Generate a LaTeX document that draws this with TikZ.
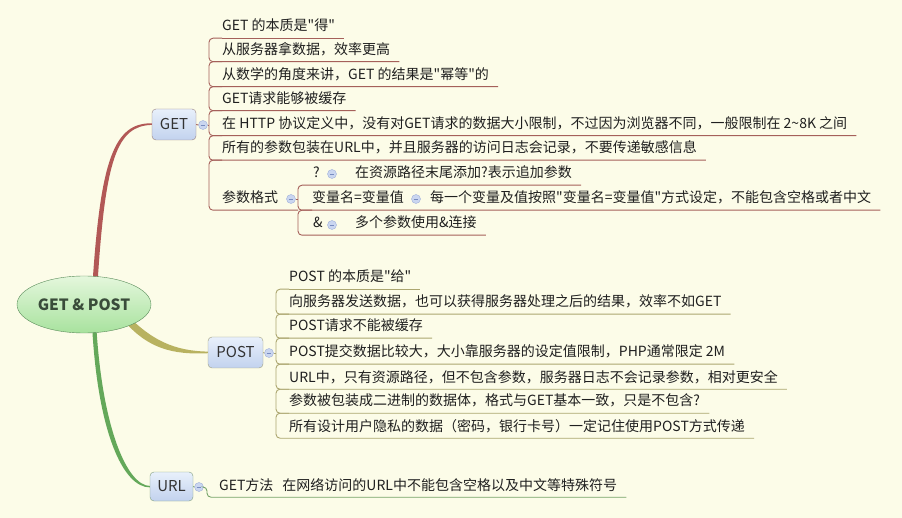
\documentclass[tikz,border=0pt]{standalone}
\usepackage{fontspec}
\setmainfont{Noto Sans CJK SC}[Ligatures=TeXOff]
\usetikzlibrary{shapes.geometric}
\definecolor{paper}{RGB}{252,252,232}
\definecolor{getred}{RGB}{178,88,86}
\definecolor{getrule}{RGB}{165,96,90}
\definecolor{postolive}{RGB}{184,178,96}
\definecolor{postrule}{RGB}{172,166,112}
\definecolor{urlgreen}{RGB}{100,168,90}
\definecolor{urlrule}{RGB}{118,164,104}
\definecolor{foldblue}{RGB}{202,214,240}
\definecolor{foldrim}{RGB}{160,176,218}
\definecolor{foldmark}{RGB}{120,140,192}
\definecolor{boxtop}{RGB}{232,240,251}
\definecolor{boxbottom}{RGB}{194,210,238}
\definecolor{roottop}{RGB}{228,247,220}
\definecolor{rootbottom}{RGB}{168,226,158}
\definecolor{roottext}{RGB}{58,76,58}

\begin{document}
\begin{tikzpicture}[x=1pt,y=-1pt,font=\fontsize{14}{16}\selectfont]
        \tikzstyle{item}=[anchor=base west,inner xsep=0,inner ysep=5pt,text height=11pt,text depth=2pt,text=black!88]
        \tikzstyle{branch}=[draw,rounded corners=4pt,top color=boxtop,bottom color=boxbottom,minimum height=31pt,inner sep=0,font=\fontsize{15}{17}\selectfont,text=black!80]
        \tikzstyle{fold}=[circle,draw=foldrim,fill=foldblue,minimum size=9pt,inner sep=0,
            path picture={\draw[foldmark,line width=.7pt] ([xshift=-2.3pt]path picture bounding box.center) -- ([xshift=2.3pt]path picture bounding box.center);}]
        \tikzstyle{getline}=[draw=getrule,line width=.9pt,rounded corners=4pt]
        \tikzstyle{postline}=[draw=postrule,line width=.9pt,rounded corners=4pt]
        \tikzstyle{urlline}=[draw=urlrule,line width=.9pt,rounded corners=4pt]

        \fill[paper] (0,0) rectangle (902,518);
        \useasboundingbox (0,0) rectangle (902,518);

        % tapered branches from the root
        \fill[getred] (92.6,282) .. controls (100.8,160) and (114,122.6) .. (152,123.3)
            -- (152,124.9) .. controls (116.5,125.6) and (105.4,160) .. (97.6,282) -- cycle;
        \fill[postolive] (128,316) .. controls (152,340) and (174,351) .. (208,351.6)
            -- (208,353.2) .. controls (172,355) and (148,348) .. (125,322) -- cycle;
        \fill[urlgreen] (92.2,328) .. controls (98,432) and (123,487.6) .. (150,487.4)
            -- (150,486.0) .. controls (127,485.6) and (102.5,428) .. (96.4,328) -- cycle;

        % root and branch boxes
        \node[ellipse,draw=black!35!green!30!gray,top color=roottop,bottom color=rootbottom,
            minimum width=134pt,minimum height=57pt,inner sep=0,text=roottext,
            font=\fontsize{15.5}{17}\selectfont\bfseries] (root) at (84,304.5) {GET \& POST};
        \node[branch,draw={rgb,255:red,150;green,128;blue,128},minimum width=44pt] (get) at (174,124.5) {GET};
        \node[branch,draw={rgb,255:red,158;green,158;blue,128},minimum width=55pt] (post) at (235.5,352.5) {POST};
        \node[branch,draw={rgb,255:red,128;green,158;blue,128},minimum width=43pt,minimum height=29pt] (url) at (171.5,486.5) {URL};

        \node[fold] (getfold) at (203,125) {};
        \node[fold] (postfold) at (269,353) {};
        \node[fold] (urlfold) at (199,487) {};

        \coordinate (getbar) at (209,0);
        \coordinate (subbar) at (298,0);
        \coordinate (postbar) at (276,0);
        \coordinate (urlbar) at (207,0);

        % GET
        \node[item] (g1) at (222,31) {GET 的本质是"得"};
        \node[item] (g2) at (222,54.5) {从服务器拿数据，效率更高};
        \node[item] (g3) at (222,79.5) {从数学的角度来讲，GET 的结果是"幂等"的};
        \node[item] (g4) at (222,103.5) {GET请求能够被缓存};
        \node[item] (g5) at (222,128.5) {在 HTTP 协议定义中，没有对GET请求的数据大小限制，不过因为浏览器不同，一般限制在 2\textasciitilde 8K 之间};
        \node[item] (g6) at (222,153) {所有的参数包装在URL中，并且服务器的访问日志会记录，不要传递敏感信息};
        \node[item] (g7) at (222,203) {参数格式};
        \node[fold] (g7fold) at (291,199) {};

        \node[item] (s1) at (313,178) {?};
        \node[fold] (s1fold) at (332,174) {};
        \node[item] (c1) at (355,178) {在资源路径末尾添加?表示追加参数};
        \node[item] (s2) at (312,203) {变量名=变量值};
        \node[fold] (s2fold) at (416,199) {};
        \node[item] (c2) at (430,203) {每一个变量及值按照"变量名=变量值"方式设定，不能包含空格或者中文};
        \node[item] (s3) at (313,228) {\&};
        \node[fold] (s3fold) at (332,225) {};
        \node[item] (c3) at (355,228) {多个参数使用\&连接};

        \draw[getline] (get.east) -- (getfold.west);
        \draw[getline] (getfold.east) -- (getbar |- getfold.east);
        \draw[getline] (g1.south west) -- ([xshift=9pt]g1.south east);
        \draw[getline] (g1.south west) -| (getbar |- g2.south) -- ([xshift=9pt]g2.south east);
        \draw[getline] (g2.south west) -| (getbar |- g3.south) -- ([xshift=9pt]g3.south east);
        \draw[getline] (g3.south west) -| (getbar |- g4.south) -- ([xshift=9pt]g4.south east);
        \draw[getline] (g4.south west) -| (getbar |- g5.south) -- ([xshift=9pt]g5.south east);
        \draw[getline] (g5.south west) -| (getbar |- g6.south) -- ([xshift=9pt]g6.south east);
        \draw[getline] (g6.south west) -| (getbar |- g7.south) -- (subbar |- g7.south);
        \draw[getline] (g7fold.east) -- (subbar |- g7fold.east);
        \draw[getline] ([xshift=9pt]c1.south east) -- (s1.south west) -| (subbar |- s2.south) -- ([xshift=9pt]c2.south east);
        \draw[getline] (s2.south west) -| (subbar |- s3.south) -- ([xshift=9pt]c3.south east);

        % POST
        \node[item] (p1) at (289,282) {POST 的本质是"给"};
        \node[item] (p2) at (289,307) {向服务器发送数据，也可以获得服务器处理之后的结果，效率不如GET};
        \node[item] (p3) at (289,331) {POST请求不能被缓存};
        \node[item] (p4) at (289,357) {POST提交数据比较大，大小靠服务器的设定值限制，PHP通常限定 2M};
        \node[item] (p5) at (289,382) {URL中，只有资源路径，但不包含参数，服务器日志不会记录参数，相对更安全};
        \node[item] (p6) at (289,406) {参数被包装成二进制的数据体，格式与GET基本一致，只是不包含?};
        \node[item] (p7) at (289,431) {所有设计用户隐私的数据（密码，银行卡号）一定记住使用POST方式传递};

        \draw[postline] (post.east) -- (postfold.west);
        \draw[postline] (postfold.east) -- (postbar |- postfold.east);
        \draw[postline] (p1.south west) -- ([xshift=9pt]p1.south east);
        \draw[postline] (p1.south west) -| (postbar |- p2.south) -- ([xshift=9pt]p2.south east);
        \draw[postline] (p2.south west) -| (postbar |- p3.south) -- ([xshift=9pt]p3.south east);
        \draw[postline] (p3.south west) -| (postbar |- p4.south) -- ([xshift=9pt]p4.south east);
        \draw[postline] (p4.south west) -| (postbar |- p5.south) -- ([xshift=9pt]p5.south east);
        \draw[postline] (p5.south west) -| (postbar |- p6.south) -- ([xshift=9pt]p6.south east);
        \draw[postline] (p6.south west) -| (postbar |- p7.south) -- ([xshift=9pt]p7.south east);

        % URL
        \node[item] (u1) at (219,490) {GET方法\hspace{9pt}在网络访问的URL中不能包含空格以及中文等特殊符号};
        \draw[urlline] (url.east) -- (urlfold.west);
        \draw[urlline] (urlfold.east) -| (urlbar |- u1.south) -- ([xshift=9pt]u1.south east);
\end{tikzpicture}
\end{document}
